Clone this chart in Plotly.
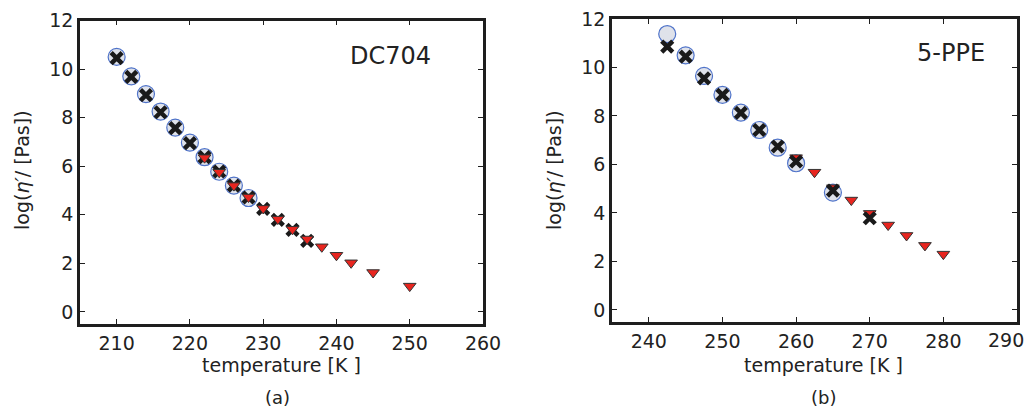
import plotly.graph_objects as go
from plotly.subplots import make_subplots

# Panel (a): DC704
a_circ_T = [210, 212, 214, 216, 218, 220, 222, 224, 226, 228]
a_circ_v = [10.50, 9.70, 8.97, 8.25, 7.59, 6.97, 6.37, 5.77, 5.20, 4.69]
a_cross_T = [210, 212, 214, 216, 218, 220, 222, 224, 226, 228, 230, 232, 234, 236]
a_cross_v = [10.45, 9.68, 8.93, 8.22, 7.57, 6.95, 6.37, 5.78, 5.20, 4.71, 4.24, 3.79, 3.38, 2.92]
a_tri_T = [222, 224, 226, 228, 230, 232, 234, 236, 238, 240, 242, 245, 250]
a_tri_v = [6.35, 5.75, 5.20, 4.73, 4.26, 3.82, 3.40, 3.00, 2.68, 2.33, 2.02, 1.62, 1.06]

# Panel (b): 5-PPE
b_circ_T = [242.5, 245, 247.5, 250, 252.5, 255, 257.5, 260, 265]
b_circ_v = [11.38, 10.50, 9.65, 8.87, 8.14, 7.42, 6.69, 6.05, 4.84]
b_cross_T = [242.5, 245, 247.5, 250, 252.5, 255, 257.5, 260, 265, 270]
b_cross_v = [10.86, 10.45, 9.55, 8.87, 8.13, 7.42, 6.74, 6.12, 4.92, 3.78]
b_tri_T = [260, 262.5, 265, 267.5, 270, 272.5, 275, 277.5, 280]
b_tri_v = [6.28, 5.68, 5.04, 4.53, 3.98, 3.50, 3.07, 2.66, 2.30]

x_ticks_a = [210, 220, 230, 240, 250, 260]
x_ticks_b = [240, 250, 260, 270, 280, 290]
x_labels_b = ["240", "250", "260", "270", "280", ""]   # last label drawn separately so it stays in view
last_label_b = "290"
y_ticks = [0, 2, 4, 6, 8, 10, 12]

FONT = "DejaVu Sans"
TXT = "#222222"

# page body has an 8px margin; the figure starts at (8, 8) in the window
W, H, OFF = 1035, 401, 8

def px_x(x):
    return (x - OFF) / W

def px_y(y):
    return 1 - (y - OFF) / H

fig = make_subplots(rows=1, cols=2)
fig.update_layout(
    xaxis=dict(domain=[px_x(80), px_x(483)]),
    xaxis2=dict(domain=[px_x(612), px_x(1017)]),
    yaxis=dict(domain=[px_y(324), px_y(20.5)]),
    yaxis2=dict(domain=[px_y(322), px_y(19)]),
)

circ = dict(symbol="circle", size=17, color="#dfe2ea", line=dict(color="#4f73c9", width=1.2))
cross = dict(symbol="x-thin", size=11, color="#1a1a1a", line=dict(color="#1a1a1a", width=4.5))
tri = dict(symbol="triangle-down", size=11, color="#e8251f", line=dict(color="#333333", width=1))

def add(T, v, m, col):
    fig.add_trace(go.Scatter(x=T, y=v, mode="markers", marker=m, showlegend=False,
                             hoverinfo="skip"), row=1, col=col)

# panel a: triangles drawn over the crosses
add(a_circ_T, a_circ_v, circ, 1)
add(a_cross_T, a_cross_v, cross, 1)
add(a_tri_T, a_tri_v, tri, 1)
# panel b: crosses drawn over the triangles
add(b_circ_T, b_circ_v, circ, 2)
add(b_tri_T, b_tri_v, tri, 2)
add(b_cross_T, b_cross_v, cross, 2)

axis_common = dict(showline=True, linewidth=2.5, linecolor="#1e1e1e", mirror="ticks",
                   ticks="inside", ticklen=5, tickwidth=1.2, tickcolor="#1e1e1e",
                   showgrid=False, zeroline=False, automargin=False,
                   ticklabeloverflow="allow",
                   tickfont=dict(family=FONT, size=19, color=TXT))
fig.update_xaxes(**axis_common)
fig.update_yaxes(**axis_common)
fig.update_xaxes(range=[205, 260], tickvals=x_ticks_a, row=1, col=1)
fig.update_xaxes(range=[235, 290], tickvals=x_ticks_b, ticktext=x_labels_b, row=1, col=2)
fig.update_yaxes(range=[-0.5, 12], tickvals=y_ticks, row=1, col=1)
fig.update_yaxes(range=[-0.5, 12], tickvals=y_ticks, row=1, col=2)

ann = []
def txt(x, y, s, size=19, angle=0, xanchor="center"):
    ann.append(dict(x=px_x(x), y=px_y(y), xref="paper", yref="paper", text=s,
                    showarrow=False, textangle=angle, xanchor=xanchor, yanchor="middle",
                    font=dict(family=FONT, size=size, color=TXT)))

txt(390, 56, "DC704", 24)
txt(951, 53, "5-PPE", 24)
txt(281, 365, "temperature [K ]", 19)
txt(823, 365, "temperature [K ]", 19)
txt(277, 397, "(a)", 18)
txt(823, 397, "(b)", 18)
txt(22, 170, "log(<i>η′</i>/ [Pas])", 19, -90)
txt(554, 170, "log(<i>η′</i>/ [Pas])", 19, -90)
# last tick label of panel (b), kept inside the visible window
ann.append(dict(x=px_x(1026), y=px_y(324), xref="paper", yref="paper", text=last_label_b,
                showarrow=False, xanchor="right", yanchor="top", yshift=-3,
                font=dict(family=FONT, size=19, color=TXT)))

fig.update_layout(annotations=ann, width=W, height=H,
                  margin=dict(l=0, r=0, t=0, b=0, autoexpand=False),
                  paper_bgcolor="white", plot_bgcolor="white")

fig.write_html("out.html")
